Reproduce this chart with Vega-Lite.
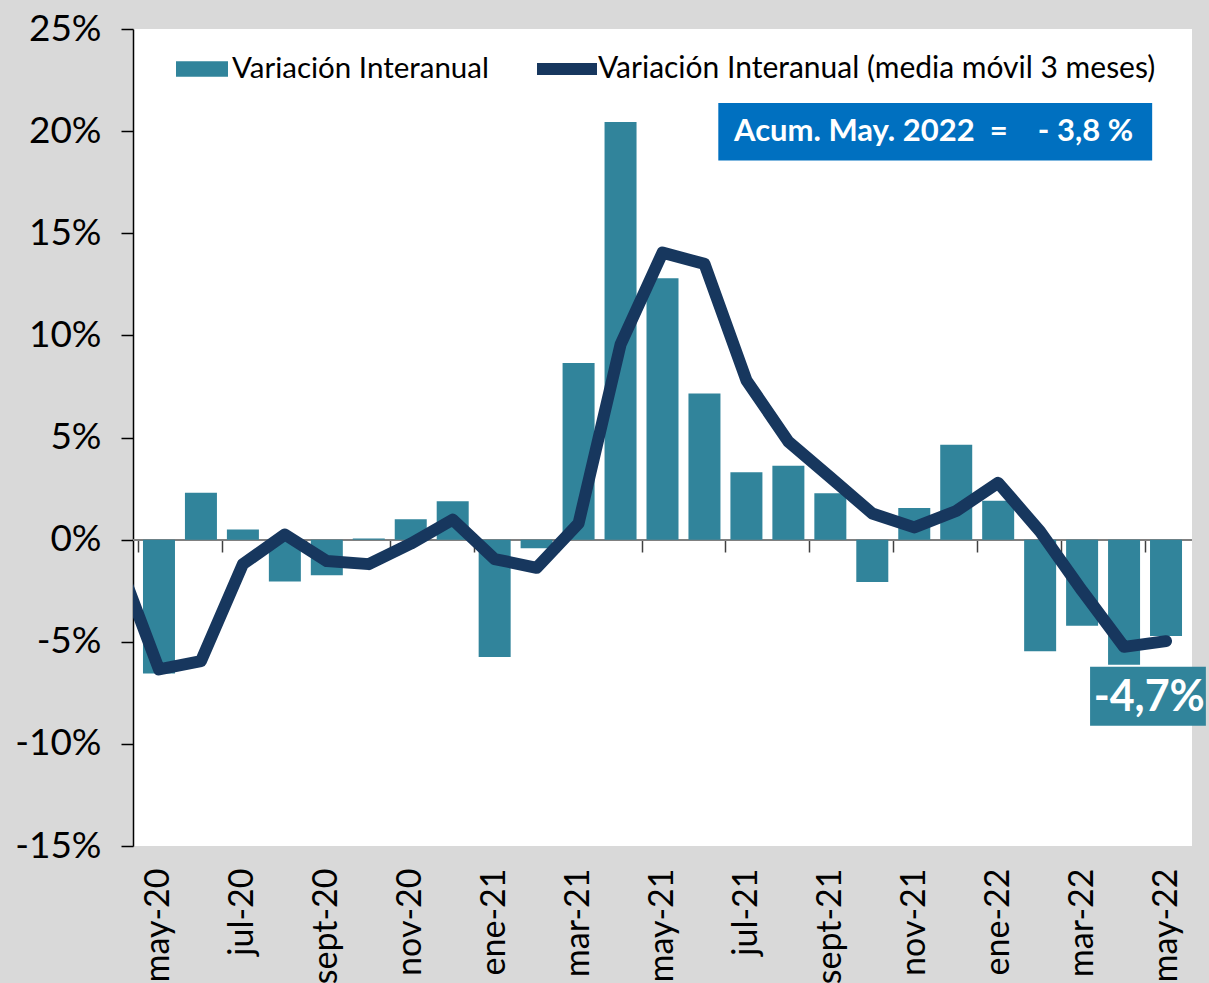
{
  "$schema": "https://vega.github.io/schema/vega-lite/v6.json",
  "width": 1059,
  "height": 817,
  "autosize": "none",
  "padding": {"left": 133, "top": 29, "right": 17, "bottom": 137},
  "background": "#D9D9D9",
  "config": {
    "view": {"fill": "white", "stroke": null},
    "font": "Lato",
    "axis": {"labelFont": "Lato", "labelColor": "black", "title": null, "grid": false},
    "legend": {"labelFont": "Lato", "labelColor": "black"}
  },
  "data": {
    "values": [
      {"i": -1, "mes": "abr-20", "var": null, "mm3": -0.9},
      {"i": 0, "mes": "may-20", "var": -6.55, "mm3": -6.35},
      {"i": 1, "mes": "jun-20", "var": 2.3, "mm3": -5.95},
      {"i": 2, "mes": "jul-20", "var": 0.5, "mm3": -1.2},
      {"i": 3, "mes": "ago-20", "var": -2.05, "mm3": 0.25},
      {"i": 4, "mes": "sept-20", "var": -1.75, "mm3": -1.05},
      {"i": 5, "mes": "oct-20", "var": 0.06, "mm3": -1.2},
      {"i": 6, "mes": "nov-20", "var": 1.0, "mm3": -0.2},
      {"i": 7, "mes": "dic-20", "var": 1.88, "mm3": 0.98},
      {"i": 8, "mes": "ene-21", "var": -5.75, "mm3": -0.95},
      {"i": 9, "mes": "feb-21", "var": -0.42, "mm3": -1.38},
      {"i": 10, "mes": "mar-21", "var": 8.65, "mm3": 0.8},
      {"i": 11, "mes": "abr-21", "var": 20.45, "mm3": 9.55},
      {"i": 12, "mes": "may-21", "var": 12.8, "mm3": 14.05},
      {"i": 13, "mes": "jun-21", "var": 7.15, "mm3": 13.5},
      {"i": 14, "mes": "jul-21", "var": 3.3, "mm3": 7.8},
      {"i": 15, "mes": "ago-21", "var": 3.62, "mm3": 4.8},
      {"i": 16, "mes": "sept-21", "var": 2.27, "mm3": 3.05},
      {"i": 17, "mes": "oct-21", "var": -2.07, "mm3": 1.28},
      {"i": 18, "mes": "nov-21", "var": 1.55, "mm3": 0.6},
      {"i": 19, "mes": "dic-21", "var": 4.64, "mm3": 1.4},
      {"i": 20, "mes": "ene-22", "var": 1.9, "mm3": 2.78},
      {"i": 21, "mes": "feb-22", "var": -5.47, "mm3": 0.4},
      {"i": 22, "mes": "mar-22", "var": -4.22, "mm3": -2.5},
      {"i": 23, "mes": "abr-22", "var": -6.13, "mm3": -5.25},
      {"i": 24, "mes": "may-22", "var": -4.72, "mm3": -4.97}
    ]
  },
  "layer": [
    {
      "mark": {"type": "rule", "color": "#808080", "strokeWidth": 1.5},
      "encoding": {"y": {"datum": 0, "type": "quantitative"}}
    },
    {
      "mark": {"type": "bar", "size": 32},
      "encoding": {
        "x": {
          "field": "i", "type": "quantitative",
          "scale": {"domain": [-0.5, 24.5], "nice": false, "zero": false},
          "axis": {
            "orient": "bottom",
            "values": [0, 2, 4, 6, 8, 10, 12, 14, 16, 18, 20, 22, 24],
            "labelExpr": "['may-20','jun-20','jul-20','ago-20','sept-20','oct-20','nov-20','dic-20','ene-21','feb-21','mar-21','abr-21','may-21','jun-21','jul-21','ago-21','sept-21','oct-21','nov-21','dic-21','ene-22','feb-22','mar-22','abr-22','may-22'][datum.value]",
            "labelAngle": -90,
            "labelFontSize": 34,
            "labelPadding": 22,
            "ticks": false,
            "domain": false,
            "labelBound": false,
            "labelOverlap": false,
            "labelFlush": false
          }
        },
        "y": {
          "field": "var", "type": "quantitative",
          "scale": {"domain": [-15, 25], "nice": false},
          "axis": {
            "values": [-15, -10, -5, 0, 5, 10, 15, 20, 25],
            "labelExpr": "datum.value + '%'",
            "labelFontSize": 37,
            "labelPadding": 20,
            "tickSize": 12,
            "tickColor": "black",
            "domainColor": "black",
            "domainWidth": 1.5,
            "tickWidth": 1.5
          }
        },
        "fill": {
          "datum": "Variación Interanual", "type": "nominal",
          "scale": {"range": ["#31849B"]},
          "legend": {
            "orient": "none", "legendX": 43, "legendY": 14, "title": null,
            "symbolType": "M-1,-0.3H1V0.3H-1Z", "symbolSize": 2704, "symbolStrokeWidth": 0,
            "labelFontSize": 29.5, "labelOffset": 4, "padding": 0, "labelLimit": 800
          }
        }
      }
    },
    {
      "mark": {"type": "line", "strokeWidth": 12, "strokeCap": "round", "strokeJoin": "round", "clip": true},
      "encoding": {
        "x": {
          "field": "i", "type": "quantitative",
          "axis": {
            "orient": "bottom",
            "offset": -306,
            "values": [-0.5, 1.5, 3.5, 5.5, 7.5, 9.5, 11.5, 13.5, 15.5, 17.5, 19.5, 21.5, 23.5],
            "labels": false,
            "domain": false,
            "ticks": true,
            "tickSize": 12,
            "tickWidth": 1.5,
            "tickColor": "#404040"
          }
        },
        "y": {"field": "mm3", "type": "quantitative"},
        "stroke": {
          "datum": "Variación Interanual (media móvil 3 meses)", "type": "nominal",
          "scale": {"range": ["#17375E"]},
          "legend": {
            "orient": "none", "legendX": 398, "legendY": 4, "title": null,
            "symbolType": "stroke", "symbolSize": 3600, "symbolStrokeWidth": 12,
            "labelFontSize": 30, "labelOffset": -5, "padding": 0, "labelLimit": 800
          }
        }
      }
    },
    {
      "data": {"values": [{}]},
      "mark": {"type": "rect", "color": "#0070C0"},
      "encoding": {
        "x": {"datum": 13.33, "type": "quantitative", "axis": null},
        "x2": {"datum": 23.67},
        "y": {"datum": 21.38, "type": "quantitative"},
        "y2": {"datum": 18.56}
      }
    },
    {
      "data": {"values": [{}]},
      "mark": {"type": "text", "color": "white", "fontWeight": "bold", "fontSize": 31, "align": "center", "baseline": "middle", "font": "Lato"},
      "encoding": {
        "x": {"datum": 18.46, "type": "quantitative", "axis": null},
        "y": {"datum": 19.96, "type": "quantitative"},
        "text": {"value": "Acum. May. 2022\u00a0\u00a0=\u00a0\u00a0\u00a0\u00a0-\u00a03,8\u00a0%"}
      }
    },
    {
      "data": {"values": [{}]},
      "mark": {"type": "rect", "color": "#31849B"},
      "encoding": {
        "x": {"datum": 22.19, "type": "quantitative", "axis": null},
        "x2": {"datum": 24.95},
        "y": {"datum": -6.22, "type": "quantitative"},
        "y2": {"datum": -9.11}
      }
    },
    {
      "data": {"values": [{}]},
      "mark": {"type": "text", "color": "white", "fontWeight": "bold", "fontSize": 43, "align": "center", "baseline": "middle", "font": "Lato"},
      "encoding": {
        "x": {"datum": 23.6, "type": "quantitative", "axis": null},
        "y": {"datum": -7.75, "type": "quantitative"},
        "text": {"value": "-4,7%"}
      }
    }
  ],
  "resolve": {"axis": {"x": "independent"}}
}
